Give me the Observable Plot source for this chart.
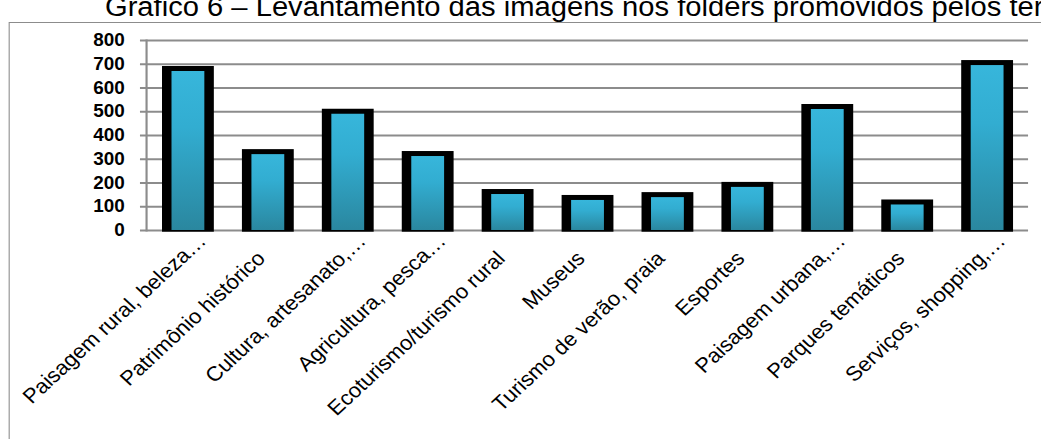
<!DOCTYPE html>
<html>
<head>
<meta charset="utf-8">
<script src="https://cdn.jsdelivr.net/npm/d3@7"></script>
<script src="https://cdn.jsdelivr.net/npm/@observablehq/plot@0.6"></script>
<style>
  html, body { margin: 0; padding: 0; overflow: hidden; background: #fff; width: 1041px; height: 439px; }
  #wrap { position: relative; width: 964px; height: 439px; transform: scaleX(1.08); transform-origin: 0 0; font-family: "Liberation Sans", Arial, sans-serif; }
  #title { position: absolute; left: 97.2px; top: -6.5px; font-size: 27px; line-height: 27px; white-space: nowrap; color: #000; }
  #box { position: absolute; left: 8.3px; top: 22px; width: 1000px; height: 600px; border: 1.5px solid #8c8c8c; box-sizing: border-box; }
  #chart { position: absolute; left: 0; top: 0; }
</style>
</head>
<body>
<div id="wrap">
  <div id="box"></div>
  <div id="title">Gráfico 6 – Levantamento das imagens nos folders promovidos pelos territórios</div>
  <div id="chart"></div>
</div>
<script>
const categories = [
  "Paisagem rural, beleza…",
  "Patrimônio histórico",
  "Cultura, artesanato,…",
  "Agricultura, pesca…",
  "Ecoturismo/turismo rural",
  "Museus",
  "Turismo de verão, praia",
  "Esportes",
  "Paisagem urbana,…",
  "Parques temáticos",
  "Serviços, shopping,…"
];
const values = [680, 330, 500, 322, 162, 137, 149, 192, 520, 118, 705];
const yTicks = [0, 100, 200, 300, 400, 500, 600, 700, 800];

const data = categories.map((c, i) => ({c, v: values[i]}));
const truncated = data.filter(d => d.c.endsWith("…"));
const full = data.filter(d => !d.c.endsWith("…"));

const grid = "#8c8c8c";
const plot = Plot.plot({
  width: 964,
  height: 439,
  marginLeft: 135.2,
  marginRight: 12.1,
  marginTop: 40,
  marginBottom: 209,
  style: {background: "transparent", fontFamily: "Liberation Sans, Arial, sans-serif", color: "#000"},
  x: {domain: categories, paddingInner: 0.352, paddingOuter: 0.176, axis: null},
  y: {domain: [0, 800], axis: null},
  marks: [
    Plot.ruleY(yTicks, {stroke: grid, strokeWidth: 2, insetLeft: -5.6}),
    Plot.frame({anchor: "left", stroke: grid, strokeWidth: 2}),
    Plot.barY(data, {x: "c", y: "v", fill: "#000", insetTop: -2.5, insetBottom: -1.7}),
    Plot.barY(data, {x: "c", y: "v", fill: "url(#barGrad)", insetLeft: 8.8, insetRight: 8.8, insetTop: 2.5}),
    Plot.text(yTicks, {y: d => d, text: d => String(d), frameAnchor: "left", textAnchor: "end", dx: -20.1, fontWeight: "bold", fontSize: 17.5, fill: "#000"}),
    Plot.text(full, {x: "c", y: () => 0, text: "c", rotate: -45, textAnchor: "end", dx: -6.5, dy: 24.6, fontSize: 20.5, fill: "#000"}),
    Plot.text(truncated, {x: "c", y: () => 0, text: "c", rotate: -45, textAnchor: "end", dx: 12.9, dy: 7.0, fontSize: 20.5, fill: "#000"})
  ]
});

const defs = d3.select(plot).insert("defs", ":first-child");
const grad = defs.append("linearGradient").attr("id", "barGrad").attr("x1", 0).attr("y1", 0).attr("x2", 0).attr("y2", 1);
grad.append("stop").attr("offset", "0%").attr("stop-color", "#37b6db");
grad.append("stop").attr("offset", "35%").attr("stop-color", "#32add1");
grad.append("stop").attr("offset", "100%").attr("stop-color", "#2a879f");

document.getElementById("chart").appendChild(plot);
</script>
</body>
</html>
